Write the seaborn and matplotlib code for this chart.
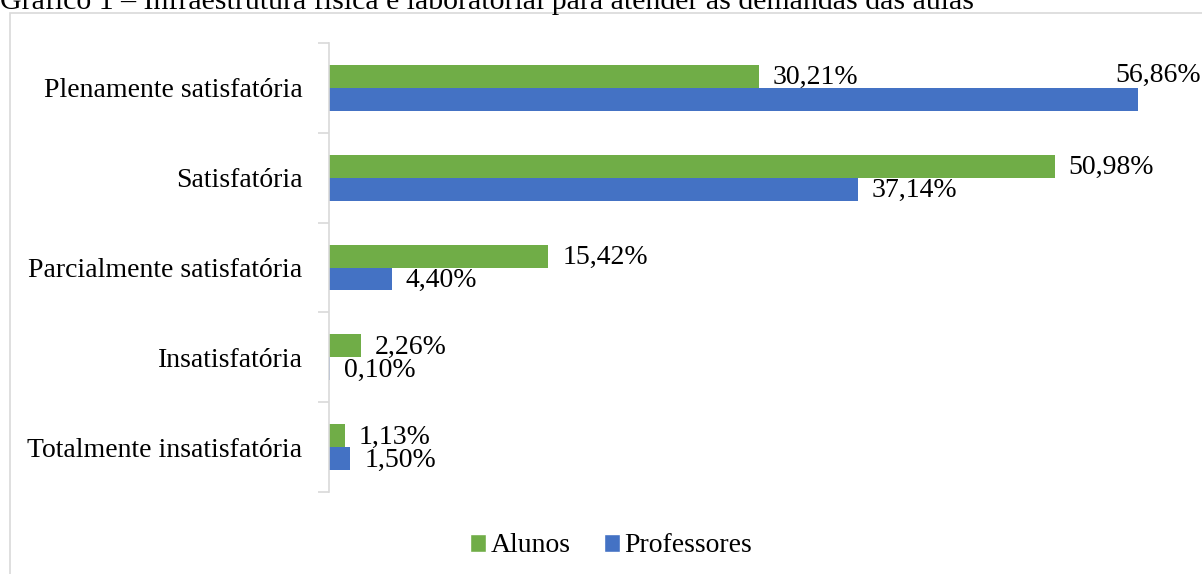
import matplotlib
matplotlib.use("Agg")
import matplotlib.pyplot as plt
import seaborn as sns
import pandas as pd
from matplotlib.patches import Rectangle, Patch

categorias = ["Plenamente satisfatória", "Satisfatória", "Parcialmente satisfatória",
              "Insatisfatória", "Totalmente insatisfatória"]
alunos = [30.21, 50.98, 15.42, 2.26, 1.13]
professores = [56.86, 37.14, 4.40, 0.10, 1.50]
series = ["Alunos", "Professores"]
cores = ["#70AD47", "#4472C4"]
titulo = "Gráfico 1 – Infraestrutura física e laboratorial para atender às demandas das aulas"

df = pd.DataFrame({
    "categoria": categorias * 2,
    "valor": alunos + professores,
    "serie": ["Alunos"] * len(categorias) + ["Professores"] * len(categorias),
})

sns.set_style("white")
plt.rcParams["font.family"] = ["Liberation Serif", "DejaVu Serif"]
plt.rcParams["text.color"] = "black"
plt.rcParams["ytick.color"] = "black"
FS = 20

W, H = 1202, 574
fig = plt.figure(figsize=(W / 100, H / 100), dpi=100)
ax = fig.add_axes([329 / W, 1 - 492 / H, 854 / W, 449 / H])

sns.barplot(data=df, y="categoria", x="valor", hue="serie", hue_order=series,
            palette=cores, orient="h", width=0.51, ax=ax, legend=False,
            saturation=1, linewidth=0)

ax.set_xlim(0, 60)
ax.set_ylim(len(categorias) - 0.5, -0.5)
ax.set_xlabel("")
ax.set_ylabel("")
ax.set_xticks([])
for s in ["top", "right", "bottom"]:
    ax.spines[s].set_visible(False)
ax.spines["left"].set_color("#d9d9d9")
ax.spines["left"].set_linewidth(1.2)

ax.set_yticks(range(len(categorias)))
ax.set_yticklabels(categorias, fontsize=FS, color="black")
ax.tick_params(axis="y", which="major", length=0, pad=19)
ax.set_yticks([i - 0.5 for i in range(len(categorias) + 1)], minor=True)
ax.tick_params(axis="y", which="minor", length=8, color="#d9d9d9", width=1.2, left=True)

# rótulos de dados
for j, vals in enumerate([alunos, professores]):
    cont = ax.containers[j]
    for bar, v in zip(cont, vals):
        y = bar.get_y() + bar.get_height() / 2
        txt = f"{v:.2f}%".replace(".", ",")
        if v > 55:
            ax.annotate(txt, (v, y), xytext=(14, 17), textcoords="offset points",
                        ha="center", va="center", fontsize=FS)
        else:
            ax.annotate(txt, (v, y), xytext=(10, -1), textcoords="offset points",
                        ha="left", va="center", fontsize=FS)

handles = [Patch(facecolor=c, label=s) for s, c in zip(series, cores)]
fig.legend(handles=handles, loc="center", bbox_to_anchor=(611 / W, 1 - 546 / H),
           ncol=2, frameon=False, fontsize=FS, handlelength=0.6, handleheight=0.6,
           handletextpad=0.15, columnspacing=1.2)

fig.patches.append(Rectangle((10 / W, -0.1), 1.2, 1 - 13 / H + 0.1, transform=fig.transFigure,
                             fill=False, edgecolor="#d9d9d9", linewidth=1.2))
fig.text(0, 1 - 9 / H, titulo, ha="left", va="baseline", fontsize=21.5)

fig.savefig("out.png", dpi=100)
